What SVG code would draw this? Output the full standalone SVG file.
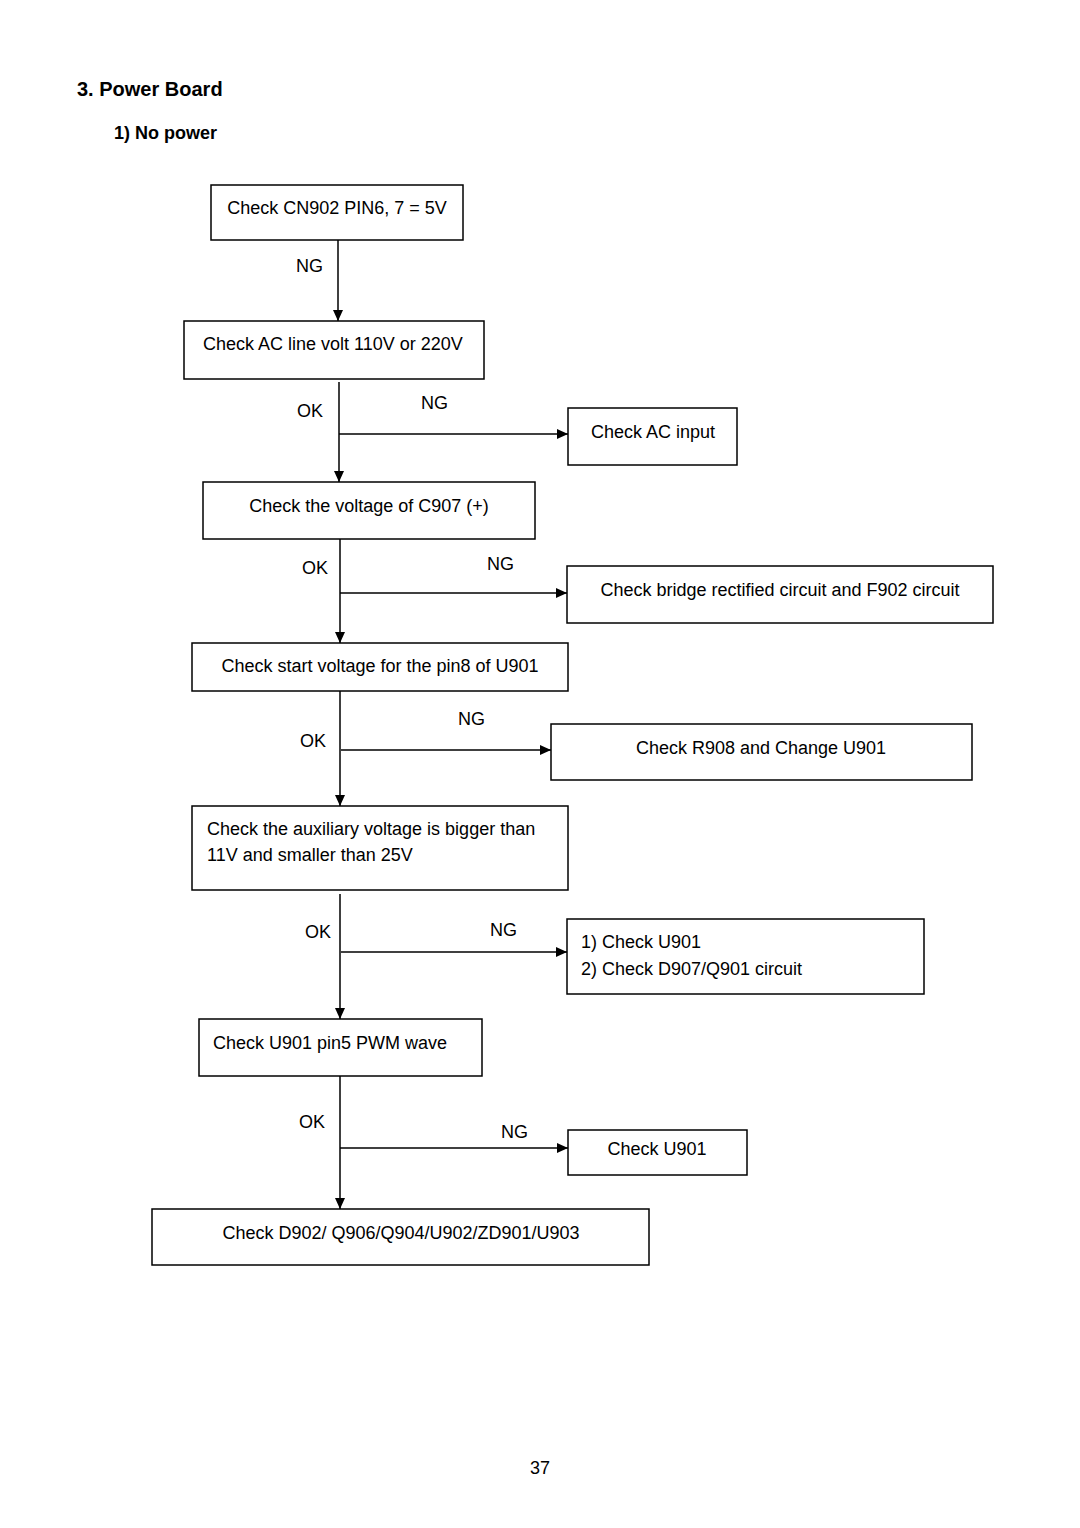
<svg xmlns="http://www.w3.org/2000/svg" width="1080" height="1528" viewBox="0 0 1080 1528">
<style>
.t{font-family:"Liberation Sans",Arial,sans-serif;font-size:18px;fill:#000}
.c{text-anchor:middle}
.b{fill:#fff;stroke:#000;stroke-width:1.5}
.h{font-family:"Liberation Sans",Arial,sans-serif;font-weight:bold;fill:#000}
.ln{stroke:#000;stroke-width:1.5;fill:none}
</style>
<defs>
<marker id="ah" viewBox="0 0 11 10" refX="11" refY="5" markerWidth="11" markerHeight="10" markerUnits="userSpaceOnUse" orient="auto">
<path d="M0,0 L11,5 L0,10 Z" fill="#000"/>
</marker>
</defs>
<rect width="1080" height="1528" fill="#fff"/>
<text class="h" x="77" y="96" font-size="20">3. Power Board</text>
<text class="h" x="114" y="139" font-size="18">1) No power</text>

<g id="connectors">
<line class="ln" x1="338" y1="240" x2="338" y2="321" marker-end="url(#ah)"/>
<line class="ln" x1="339" y1="382" x2="339" y2="482" marker-end="url(#ah)"/>
<line class="ln" x1="339" y1="434" x2="568" y2="434" marker-end="url(#ah)"/>
<line class="ln" x1="340" y1="539" x2="340" y2="643" marker-end="url(#ah)"/>
<line class="ln" x1="340" y1="593" x2="567" y2="593" marker-end="url(#ah)"/>
<line class="ln" x1="340" y1="691" x2="340" y2="806" marker-end="url(#ah)"/>
<line class="ln" x1="341" y1="750" x2="551" y2="750" marker-end="url(#ah)"/>
<line class="ln" x1="340" y1="894" x2="340" y2="1019" marker-end="url(#ah)"/>
<line class="ln" x1="341" y1="952" x2="567" y2="952" marker-end="url(#ah)"/>
<line class="ln" x1="340" y1="1076" x2="340" y2="1209" marker-end="url(#ah)"/>
<line class="ln" x1="340" y1="1148" x2="568" y2="1148" marker-end="url(#ah)"/>
<text class="t" x="296" y="272">NG</text>
<text class="t" x="297" y="417">OK</text>
<text class="t" x="421" y="409">NG</text>
<text class="t" x="302" y="574">OK</text>
<text class="t" x="487" y="570">NG</text>
<text class="t" x="300" y="747">OK</text>
<text class="t" x="458" y="725">NG</text>
<text class="t" x="305" y="938">OK</text>
<text class="t" x="490" y="936">NG</text>
<text class="t" x="299" y="1128">OK</text>
<text class="t" x="501" y="1138">NG</text>
</g>

<g id="n1"><rect class="b" x="211" y="185" width="252" height="55"/><text class="t c" x="337" y="214">Check CN902 PIN6, 7 = 5V</text></g>
<g id="n2"><rect class="b" x="184" y="321" width="300" height="58"/><text class="t" x="203" y="350">Check AC line volt 110V or 220V</text></g>
<g id="n3"><rect class="b" x="568" y="408" width="169" height="57"/><text class="t c" x="653" y="438">Check AC input</text></g>
<g id="n4"><rect class="b" x="203" y="482" width="332" height="57"/><text class="t c" x="369" y="512">Check the voltage of C907 (+)</text></g>
<g id="n5"><rect class="b" x="567" y="566" width="426" height="57"/><text class="t c" x="780" y="596">Check bridge rectified circuit and F902 circuit</text></g>
<g id="n6"><rect class="b" x="192" y="643" width="376" height="48"/><text class="t c" x="380" y="672">Check start voltage for the pin8 of U901</text></g>
<g id="n7"><rect class="b" x="551" y="724" width="421" height="56"/><text class="t c" x="761" y="754">Check R908 and Change U901</text></g>
<g id="n8"><rect class="b" x="192" y="806" width="376" height="84"/><text class="t" x="207" y="835">Check the auxiliary voltage is bigger than</text><text class="t" x="207" y="861">11V and smaller than 25V</text></g>
<g id="n9"><rect class="b" x="567" y="919" width="357" height="75"/><text class="t" x="581" y="948">1) Check U901</text><text class="t" x="581" y="975">2) Check D907/Q901 circuit</text></g>
<g id="n10"><rect class="b" x="199" y="1019" width="283" height="57"/><text class="t" x="213" y="1049">Check U901 pin5 PWM wave</text></g>
<g id="n11"><rect class="b" x="568" y="1130" width="179" height="45"/><text class="t c" x="657" y="1155">Check U901</text></g>
<g id="n12"><rect class="b" x="152" y="1209" width="497" height="56"/><text class="t c" x="401" y="1239">Check D902/ Q906/Q904/U902/ZD901/U903</text></g>

<text class="t c" x="540" y="1474">37</text>
</svg>
